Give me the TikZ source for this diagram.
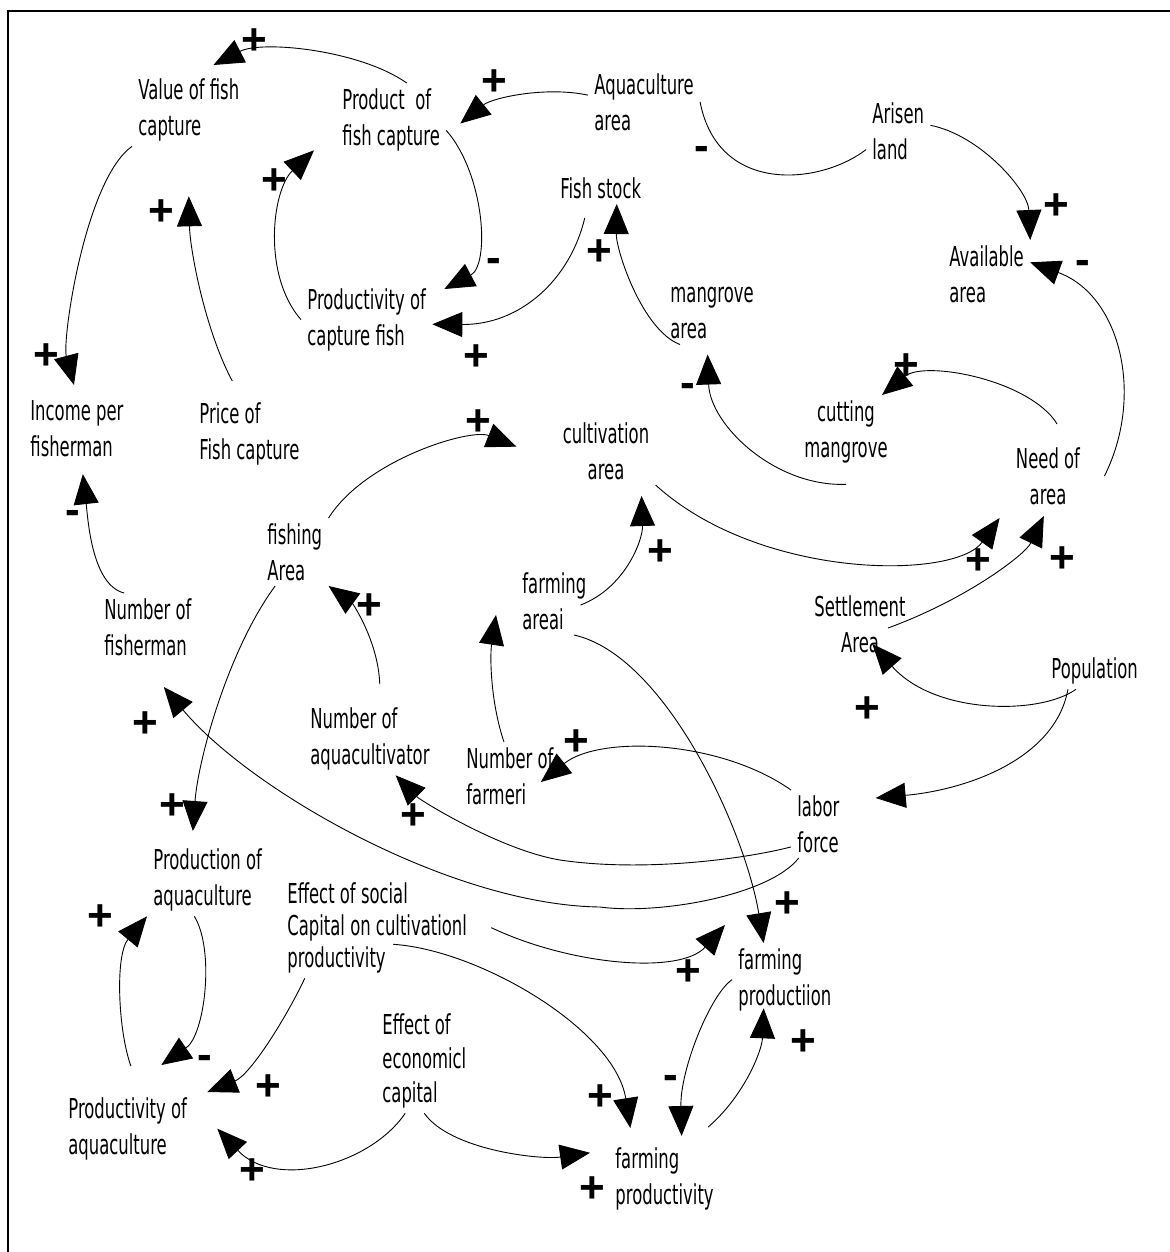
\documentclass[tikz,border=0pt]{standalone}
\usepackage{fontspec}
\setmainfont{DejaVu Sans}[FakeStretch=0.6]
\newfontfamily\polfont{Liberation Sans}
\usetikzlibrary{arrows.meta}

\tikzset{
  var/.style={align=left, anchor=north west, inner xsep=3pt, inner ysep=2.5pt,
    font=\fontsize{13.7}{18}\selectfont},
  varc/.style={var, align=center, anchor=north},
  plain/.style={line width=0.45pt},
  link/.style={plain, -{Triangle[length=15pt,width=12.5pt]}},
  pol/.style={font=\polfont\bfseries\fontsize{22}{22}\selectfont, inner sep=0pt}
}

\begin{document}
\begin{tikzpicture}[x=0.5pt,y=-0.5pt]
\useasboundingbox (0,0) rectangle (1170,1252);
\draw[line width=1.4pt] (8,1252) -- (8,11) -- (1170,11);

\node[var] (val) at (132,73) {Value of fish\\capture};
\node[var] (prodfish) at (336,83) {Product~ of\\fish capture};
\node[var] (aquaarea) at (588,68) {Aquaculture\\area};
\node[var] (arisen) at (866,97) {Arisen\\land};
\node[var] (fishstock) at (554,172) {Fish stock};
\node[var] (avail) at (943,240) {Available\\area};
\node[var] (mangarea) at (664,282) {mangrove\\area};
\node[var] (prodcap) at (301,283) {Productivity of\\capture fish};
\node[var] (income) at (24,395) {Income per\\fisherman};
\node[var] (price) at (193,397) {Price of\\Fish capture};
\node[varc] (cultiv) at (606,417) {cultivation\\area};
\node[varc] (cutting) at (846,395) {cutting\\mangrove};
\node[varc] (need) at (1048,442) {Need of\\area};
\node[var] (fishing) at (261,518) {fishing\\Area};
\node[var] (farmarea) at (516,567) {farming\\areai};
\node[var] (numfisher) at (98,593) {Number of\\fisherman};
\node[varc] (settle) at (860,590) {Settlement\\Area};
\node[var] (popul) at (1045,652) {Population};
\node[var] (numaqua) at (304,702) {Number of\\aquacultivator};
\node[var] (numfarm) at (460,742) {Number of\\farmeri};
\node[var] (labor) at (791,790) {labor\\force};
\node[var] (prodaqua) at (147,843) {Production of\\aquaculture};
\node[var, font=\fontsize{13.7}{16}\selectfont] (effsoc) at (281,877) {Effect of social\\Capital on cultivationl\\productivity};
\node[var] (farmprodn) at (732,943) {farming\\productiion};
\node[var, font=\fontsize{13.7}{17}\selectfont] (effeco) at (376,1008) {Effect of\\economicl\\capital};
\node[var] (prodaq2) at (62,1092) {Productivity of\\aquaculture};
\node[var] (farmprody) at (609,1142) {farming\\productivity};

\draw[link] (prodfish.67) .. controls (360,50) and (262,40) .. ([yshift=4pt]val.56);
\draw[link] (aquaarea.173) .. controls (545,86) and (492,98) .. ([xshift=7pt]prodfish.-4);
\draw[link] (prodfish.-11) .. controls (485,175) and (490,265) .. ([xshift=6pt]prodcap.25);
\draw[link] ([yshift=-7pt]fishstock.-135) .. controls (570,280) and (520,325) .. (prodcap.-4);
\draw[link] (prodcap.west) .. controls (262,275) and (272,190) .. ([xshift=-11pt,yshift=3pt]prodfish.south west);
\draw[link] (val.south west) .. controls (85,180) and (62,340) .. ([yshift=5pt]income.95);
\draw[link] ([yshift=8pt]price.115) .. controls (205,330) and (190,250) .. ([yshift=-25pt]val.south);
\draw[plain] (aquaarea.east) .. controls (718,195) and (820,185) .. (arisen.210);
\draw[link] (arisen.10) .. controls (980,135) and (1028,190) .. (avail.north east);
\draw[link] ([xshift=8pt]mangarea.south west) .. controls (642,330) and (616,250) .. (fishstock.-45);
\draw[link] ([xshift=9pt]need.east) .. controls (1145,395) and (1120,295) .. (avail.15);
\draw[link] ([yshift=-8pt]cutting.south) .. controls (775,487) and (710,425) .. ([yshift=-5pt]mangarea.-98);
\draw[link] ([yshift=9pt]need.75) .. controls (1030,380) and (925,360) .. ([xshift=-6pt]cutting.north east);
\draw[link] (cultiv.south east) .. controls (760,580) and (955,580) .. ([xshift=-5pt,yshift=-4pt]need.south west);
\draw[link] ([xshift=-12pt,yshift=-2pt]settle.east) .. controls (965,600) and (1025,555) .. ([yshift=-3pt]need.-97);
\draw[link] ([xshift=-6pt,yshift=-2pt]farmarea.east) .. controls (625,588) and (643,540) .. ([xshift=-7pt,yshift=-5.5pt]cultiv.south east);
\draw[link] (popul.-135) .. controls (1040,715) and (935,715) .. ([yshift=7pt]settle.-70);
\draw[link] (popul.-145) .. controls (1055,760) and (965,790) .. ([xshift=15pt,yshift=-4pt]labor.north east);
\draw[link] (labor.north west) .. controls (720,740) and (600,735) .. ([xshift=-9.5pt,yshift=-3pt]numfarm.east);
\draw[link] (farmarea.-60) .. controls (665,655) and (745,830) .. (farmprodn.120);
\draw[link] (fishing.north east) .. controls (365,460) and (470,428) .. ([xshift=-20pt]cultiv.175);
\draw[link] (numfisher.125) .. controls (92,585) and (88,520) .. ([yshift=-6pt]income.-80);
\draw[link] ([yshift=9pt]numaqua.75) .. controls (378,640) and (352,603) .. (fishing.south east);
\draw[link] (fishing.-120) .. controls (228,650) and (198,760) .. ([yshift=6pt]prodaqua.112);
\draw[link] (labor.-120) .. controls (770,895) and (660,915) .. (600,907)
  .. controls (450,905) and (250,790) .. ([yshift=-13pt]numfisher.-65);
\draw[link] (labor.220) .. controls (740,860) and (640,872) .. (560,860)
  .. controls (500,850) and (420,800) .. (numaqua.-55);
\draw[link] (numfarm.100) .. controls (490,700) and (490,655) .. ([xshift=-10pt]farmarea.200);
\draw[link] (prodaqua.-110) .. controls (215,950) and (205,1035) .. ([xshift=4pt,yshift=13.5pt]prodaq2.55);
\draw[link] ([yshift=13pt]prodaq2.85) .. controls (118,1030) and (115,955) .. (prodaqua.south west);
\draw[link] (effsoc.-145) .. controls (285,1020) and (250,1075) .. ([xshift=7pt]prodaq2.north east);
\draw[link] (effeco.-110) .. controls (370,1165) and (275,1190) .. ([xshift=12pt]prodaq2.east);
\draw[link] (effeco.-90) .. controls (450,1150) and (540,1160) .. ([xshift=-9.5pt]farmprody.155);
\draw[link] ([xshift=9pt]effsoc.east) .. controls (570,965) and (680,975) .. ([xshift=-3.5pt,yshift=9pt]farmprodn.north west);
\draw[link] ([xshift=-40pt,yshift=17pt]effsoc.south east) .. controls (480,950) and (615,1030) .. ([xshift=-6.5pt,yshift=7pt]farmprody.120);
\draw[link] (farmprodn.west) .. controls (710,995) and (680,1070) .. ([yshift=3pt]farmprody.65);
\draw[link] ([yshift=7.5pt]farmprody.40) .. controls (745,1095) and (762,1050) .. ([yshift=4pt]farmprodn.-120);

\foreach \px/\py/\s [count=\i] in {254/42/+, 494/83/+, 494/265/-, 476/358/+, 274/182/+,
    46/357/+, 161/213/+, 702/153/-, 1056/207/+, 599/253/+, 1083/267/-, 688/390/-,
    906/367/+, 978/562/+, 1062/560/+, 660/553/+, 867/710/+, 576/743/+, 787/905/+,
    478/423/+, 73/517/-, 369/607/+, 145/725/+, 172/807/+, 413/817/+, 100/918/+,
    205/1062/-, 268/1088/+, 252/1172/+, 592/1190/+, 688/973/+, 600/1098/+,
    671/1082/-, 803/1043/+} {
  \node[pol] (pol\i) at (\px,\py) {\s};
}
\end{tikzpicture}
\end{document}
